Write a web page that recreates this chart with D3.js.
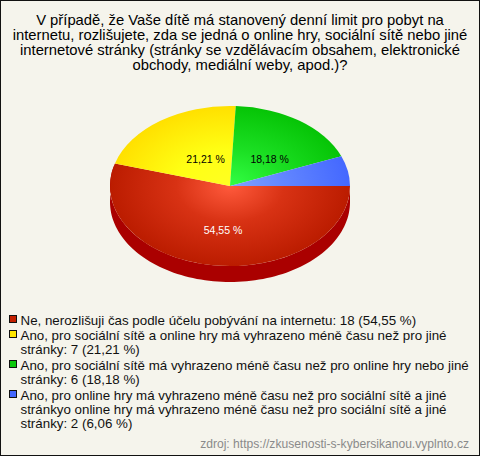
<!DOCTYPE html>
<html><head><meta charset="utf-8">
<script src="https://cdn.jsdelivr.net/npm/d3@7/dist/d3.min.js"></script>
<style>html,body{margin:0;padding:0;background:#f5f4ec}svg{display:block}text{font-family:"Liberation Sans",Arial,sans-serif}</style>
</head><body><svg id="c" width="480" height="456"></svg>
<script>
const titleLines=["V případě, že Vaše dítě má stanovený denní limit pro pobyt na","internetu, rozlišujete, zda se jedná o online hry, sociální sítě nebo jiné","internetové stránky (stránky se vzdělávacím obsahem, elektronické","obchody, mediální weby, apod.)?"];
const counts=[18,7,6,2];
const pctLabels=["54,55 %","21,21 %","18,18 %",""];
const labelColors=["#fff","#000","#000","#000"];
const innerColors=["#ff5a3c","#ffff22","#33ff44","#82a2ff"];
const midColors=["#d83214","#ffff14","#1ce024","#6286ff"];
const outerColors=["#bb1c00","#ffe000","#06c406","#4468ff"];
const swatchColors=["#c42000","#ffe600","#0cc80c","#4468ff"];
const legendLines=[["Ne, nerozlišuji čas podle účelu pobývání na internetu: 18 (54,55 %)"],["Ano, pro sociální sítě a online hry má vyhrazeno méně času než pro jiné","stránky: 7 (21,21 %)"],["Ano, pro sociální sítě má vyhrazeno méně času než pro online hry nebo jiné","stránky: 6 (18,18 %)"],["Ano, pro online hry má vyhrazeno méně času než pro sociální sítě a jiné","stránkyo online hry má vyhrazeno méně času než pro sociální sítě a jiné","stránky: 2 (6,06 %)"]];
const source="zdroj: https://zkusenosti-s-kybersikanou.vyplnto.cz";

const W=480,H=456,cx=230,cy=186,rx=120,ry=80,depth=16;
const labelRadiusX=[.41,.35,.57,0],labelRadiusY=[.55,.41,.41,0];
const svg=d3.select("#c");
svg.append("rect").attr("x",.5).attr("y",.5).attr("width",W-1).attr("height",H-1).attr("fill","#f5f4ec").attr("stroke","#111");
svg.append("g").selectAll("text").data(titleLines).join("text").attr("x",240).attr("y",(d,i)=>25+i*15).attr("text-anchor","middle").attr("font-size",14.8).attr("fill","#000").text(d=>d);

const defs=svg.append("defs");
counts.forEach((c,i)=>{const g=defs.append("radialGradient").attr("id","g"+i).attr("gradientUnits","userSpaceOnUse").attr("cx",0).attr("cy",0).attr("r",1);
 g.append("stop").attr("offset",0).attr("stop-color",innerColors[i]);
 g.append("stop").attr("offset",.45).attr("stop-color",midColors[i]);
 g.append("stop").attr("offset",1).attr("stop-color",outerColors[i]);});

const xs=d3.scaleLinear().domain([-1,1]).range([cx-rx,cx+rx]);
const ys=d3.scaleLinear().domain([-1,1]).range([cy-ry,cy+ry]);
const a0=d3.range(0,197,2).map(t=>t*Math.PI/180);
const top_=a0.map(a=>[xs(Math.cos(a)),ys(Math.sin(a))]);
const bot=a0.slice().reverse().map(a=>[xs(Math.cos(a)),ys(Math.sin(a))+depth]);
svg.append("path").attr("fill","#aa0000").attr("d",d3.line()(top_.concat(bot))+"Z");

const pie=d3.pie().sort(null).startAngle(Math.PI/2).endAngle(Math.PI*2.5);
const arcs=pie(counts);
const arc=d3.arc().innerRadius(0).outerRadius(1);
const pg=svg.append("g").attr("transform",`translate(${cx},${cy}) scale(${rx},${ry})`);
pg.selectAll("path").data(arcs).join("path").attr("d",arc).attr("fill",(d,i)=>`url(#g${i})`);

const lg=svg.append("g");
arcs.forEach((d,i)=>{if(!pctLabels[i])return;const m=(d.startAngle+d.endAngle)/2-Math.PI/2;
 lg.append("text").attr("x",xs(Math.cos(m)*labelRadiusX[i])).attr("y",ys(Math.sin(m)*labelRadiusY[i])+4).attr("text-anchor","middle").attr("font-size",10.5).attr("fill",labelColors[i]).text(pctLabels[i]);});

const gaps=[15,16,16];
let y=325;
const leg=svg.append("g");
legendLines.forEach((ls,i)=>{
 leg.append("rect").attr("x",9.5).attr("y",y-9.5).attr("width",7).attr("height",7).attr("fill",swatchColors[i]).attr("stroke","#111");
 ls.forEach((t,j)=>{leg.append("text").attr("x",20.5).attr("y",y).attr("font-size",13.33).attr("fill","#111").text(t);if(j<ls.length-1)y+=14;});
 y+=gaps[i]||0;
});
svg.append("text").attr("x",469).attr("y",447.5).attr("text-anchor","end").attr("font-size",12.1).attr("fill","#8a8a8a").text(source);
</script></body></html>
